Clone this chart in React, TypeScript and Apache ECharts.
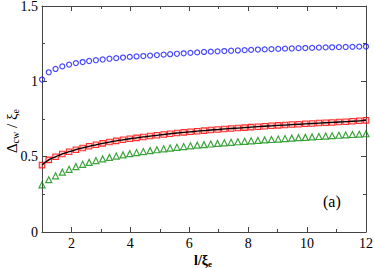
import React, { useEffect, useRef } from "react";
import * as echarts from "echarts";

// sample positions l/ξe
const lValues = [
  1.0, 1.23, 1.46, 1.69, 1.92, 2.15, 2.38, 2.6, 2.83, 3.06, 3.29, 3.52, 3.75, 3.98, 4.21, 4.44, 4.67,
  4.9, 5.13, 5.35, 5.58, 5.81, 6.04, 6.27, 6.5, 6.73, 6.96, 7.19, 7.42, 7.65, 7.88, 8.1, 8.33, 8.56,
  8.79, 9.02, 9.25, 9.48, 9.71, 9.94, 10.17, 10.4, 10.63, 10.85, 11.08, 11.31, 11.54, 11.77, 12.0,
];

const blueCircles = [
  1.012, 1.06, 1.082, 1.099, 1.111, 1.121, 1.128, 1.135, 1.14, 1.145, 1.15, 1.154, 1.158, 1.162, 1.165,
  1.168, 1.171, 1.174, 1.177, 1.18, 1.183, 1.186, 1.189, 1.192, 1.195, 1.197, 1.199, 1.201, 1.203,
  1.205, 1.207, 1.209, 1.211, 1.212, 1.214, 1.215, 1.217, 1.218, 1.22, 1.221, 1.222, 1.224, 1.225,
  1.226, 1.227, 1.228, 1.229, 1.23, 1.231,
];

const redSquares = [
  0.444, 0.479, 0.499, 0.518, 0.533, 0.546, 0.558, 0.569, 0.579, 0.588, 0.597, 0.605, 0.612, 0.619,
  0.625, 0.631, 0.637, 0.642, 0.647, 0.652, 0.657, 0.661, 0.665, 0.669, 0.673, 0.677, 0.68, 0.684,
  0.687, 0.69, 0.693, 0.696, 0.699, 0.702, 0.705, 0.708, 0.71, 0.713, 0.715, 0.718, 0.72, 0.723, 0.725,
  0.727, 0.73, 0.732, 0.735, 0.738, 0.741,
];

const greenTriangles = [
  0.313, 0.347, 0.373, 0.397, 0.416, 0.434, 0.449, 0.462, 0.474, 0.485, 0.495, 0.504, 0.512, 0.52,
  0.527, 0.534, 0.54, 0.546, 0.552, 0.557, 0.562, 0.567, 0.572, 0.576, 0.58, 0.584, 0.588, 0.592,
  0.595, 0.599, 0.602, 0.605, 0.608, 0.611, 0.614, 0.617, 0.62, 0.623, 0.626, 0.628, 0.631, 0.634,
  0.637, 0.639, 0.642, 0.644, 0.647, 0.649, 0.652,
];

const xMajorTicks = [2, 4, 6, 8, 10, 12];
const xMinorTicks = [3, 5, 7, 9, 11];
const yMajorTicks = [0, 0.5, 1, 1.5];
const yMinorTicks = [0.25, 0.75, 1.25];

const pairs = (ys: number[]) => ys.map((y, i) => [lValues[i], y]);

const FRAME = "#444";
const SERIF = "Liberation Serif";
const GRID = { left: 42, top: 6, width: 324, height: 226 };

function xAx(position: string, ticks: number[], len: number, line: boolean) {
  return {
    type: "value",
    position,
    min: 1,
    max: 12,
    interval: 1,
    axisLine: { show: line, onZero: false, lineStyle: { color: FRAME, width: 1 } },
    axisTick: { show: true, inside: true, length: len, customValues: ticks, lineStyle: { color: FRAME } },
    axisLabel: { show: false },
    splitLine: { show: false },
  };
}

function yAx(position: string, ticks: number[], len: number, line: boolean) {
  return {
    type: "value",
    position,
    min: 0,
    max: 1.5,
    interval: 0.25,
    axisLine: { show: line, onZero: false, lineStyle: { color: FRAME, width: 1 } },
    axisTick: { show: true, inside: true, length: len, customValues: ticks, lineStyle: { color: FRAME } },
    axisLabel: { show: false },
    splitLine: { show: false },
  };
}

export default function App() {
  const ref = useRef<HTMLDivElement>(null);
  useEffect(() => {
    if (!ref.current) return;
    const chart = echarts.init(ref.current, null, { renderer: "svg" });
    chart.setOption({
      animation: false,
      backgroundColor: "#fff",
      textStyle: { fontFamily: SERIF },
      grid: { ...GRID, containLabel: false },
      xAxis: [
        xAx("bottom", xMajorTicks, 5, true),
        xAx("bottom", xMinorTicks, 3, false),
        xAx("top", xMajorTicks, 5, true),
        xAx("top", xMinorTicks, 3, false),
      ],
      yAxis: [
        yAx("left", yMajorTicks, 5, true),
        yAx("left", yMinorTicks, 3, false),
        yAx("right", yMajorTicks, 5, true),
        yAx("right", yMinorTicks, 3, false),
      ],
      series: [
        {
          type: "scatter",
          data: pairs(blueCircles),
          symbol: "circle",
          symbolSize: 5,
          itemStyle: { color: "none", borderColor: "#1a1aff", borderWidth: 1.2 },
        },
        {
          type: "scatter",
          data: pairs(redSquares),
          symbol: "rect",
          symbolSize: 5.5,
          itemStyle: { color: "rgba(255,120,120,0.45)", borderColor: "#ff0000", borderWidth: 1.1 },
        },
        {
          type: "line",
          data: pairs(redSquares),
          showSymbol: false,
          symbol: "none",
          smooth: true,
          lineStyle: { color: "#000", width: 1.3 },
          z: 3,
        },
        {
          type: "scatter",
          data: pairs(greenTriangles),
          symbol: "triangle",
          symbolSize: 6,
          itemStyle: { color: "none", borderColor: "#0a8c0a", borderWidth: 1.2 },
        },
      ],
    });

    // tick labels placed through the axes' own scales
    const bottom = GRID.top + GRID.height;
    const labelGraphics: any[] = [];
    xMajorTicks.forEach((v) => {
      const px = chart.convertToPixel({ xAxisIndex: 0 }, v) as number;
      labelGraphics.push({
        type: "text",
        x: px,
        y: bottom + 4,
        style: { text: String(v), fontFamily: SERIF, fontSize: 14, fill: "#000", align: "center", verticalAlign: "top" },
      });
    });
    yMajorTicks.forEach((v) => {
      const py = chart.convertToPixel({ yAxisIndex: 0 }, v) as number;
      labelGraphics.push({
        type: "text",
        x: GRID.left - 4,
        y: py,
        style: { text: String(v), fontFamily: SERIF, fontSize: 14, fill: "#000", align: "right", verticalAlign: "middle" },
      });
    });

    chart.setOption({
      graphic: [
        ...labelGraphics,
        {
          type: "text",
          left: 323,
          top: 193,
          style: { text: "(a)", fontFamily: SERIF, fontSize: 16, fill: "#000" },
        },
        {
          type: "text",
          x: 203,
          y: 260,
          style: {
            text: "{a|l/ξ}{b|e}",
            align: "center",
            verticalAlign: "middle",
            rich: {
              a: { fontFamily: SERIF, fontWeight: "bold", fontSize: 14, lineHeight: 16, verticalAlign: "middle" },
              b: { fontFamily: SERIF, fontWeight: "bold", fontSize: 9, lineHeight: 8, verticalAlign: "bottom" },
            },
          },
        },
        {
          type: "text",
          x: 12,
          y: 131,
          rotation: Math.PI / 2,
          style: {
            text: "{a|Δ}{b|cw}{a| / ξ}{b|e}",
            align: "center",
            verticalAlign: "middle",
            rich: {
              a: { fontFamily: SERIF, fontSize: 15, lineHeight: 17, verticalAlign: "middle" },
              b: { fontFamily: SERIF, fontSize: 10, lineHeight: 8, verticalAlign: "bottom" },
            },
          },
        },
      ],
    });
    return () => chart.dispose();
  }, []);
  return <div ref={ref} style={{ width: 374, height: 268, position: "absolute", left: 0, top: 0 }} />;
}
